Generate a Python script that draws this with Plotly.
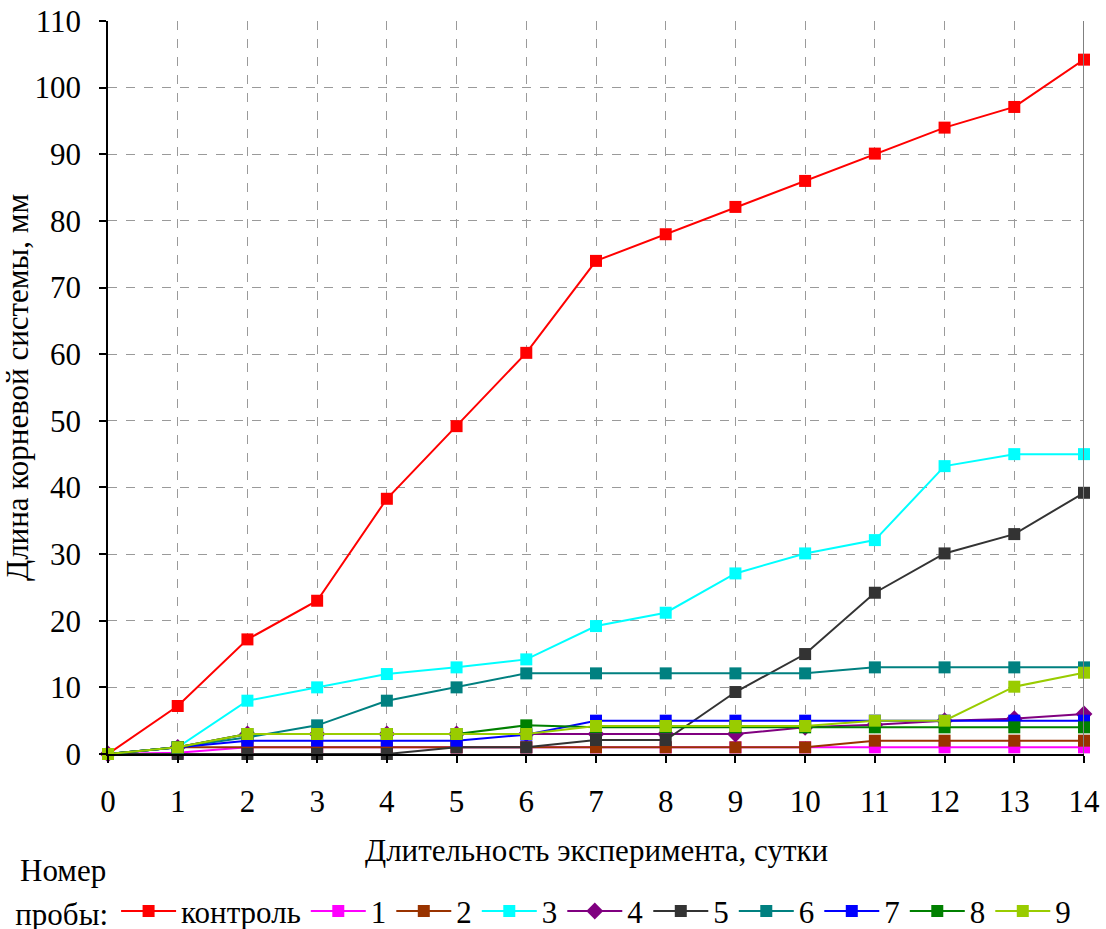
import plotly.graph_objects as go

days = list(range(15))
series_names = ["контроль", "1", "2", "3", "4", "5", "6", "7", "8", "9"]
control = [0, 7.2, 17.2, 23, 38.3, 49.2, 60.2, 74, 78, 82.1, 86, 90.1, 94, 97.1, 104.2]
s1 = [0, 0.2, 1, 1, 1, 1, 1, 1, 1, 1, 1, 1, 1, 1, 1]
s2 = [0, 1, 1, 1, 1, 1, 1, 1, 1, 1, 1, 2, 2, 2, 2]
s3 = [0, 1, 8, 10, 12, 13, 14.2, 19.2, 21.2, 27.1, 30.1, 32.1, 43.2, 45, 45]
s4 = [0, 1, 3, 3, 3, 3, 3, 3, 3, 3, 4, 4.4, 5, 5.3, 6]
s5 = [0, 0, 0, 0, 0, 1, 1, 2.1, 2.1, 9.3, 15, 24.2, 30.1, 33, 39.2]
s6 = [0, 1, 2.5, 4.3, 8, 10, 12.1, 12.1, 12.1, 12.1, 12.1, 13, 13, 13, 13]
s7 = [0, 1, 2, 2, 2, 2, 2.9, 5, 5, 5, 5, 5, 5, 5, 5]
s8 = [0, 1, 3, 3, 3, 3, 4.3, 4, 4, 4, 4, 4, 4, 4, 4]
s9 = [0, 1, 3, 3, 3, 3, 3, 4.2, 4.2, 4.2, 4.2, 5, 5, 10.1, 12.2]
x_ticks = list(range(15))
y_ticks = list(range(0, 111, 10))
x_title = "Длительность эксперимента, сутки"
y_title = "Длина корневой системы, мм"

values = [control, s1, s2, s3, s4, s5, s6, s7, s8, s9]
colors = ["#FF0000", "#FF00FF", "#993300", "#00FFFF", "#800080",
          "#333333", "#008080", "#0000FF", "#008000", "#99CC00"]
symbols = ["square", "square", "square", "square", "diamond",
           "square", "square", "square", "square", "square"]

FONT = "Liberation Serif, Times New Roman, serif"
FS = 31

fig = go.Figure()
for name, vals, col, sym in zip(series_names, values, colors, symbols):
    fig.add_trace(go.Scatter(
        x=days, y=vals, name=name, mode="lines+markers",
        line=dict(color=col, width=2),
        marker=dict(symbol=sym, size=12 if sym == "square" else 13, color=col),
        cliponaxis=False,
    ))

axis_common = dict(
    showline=True, linecolor="black", linewidth=1.5, mirror=False,
    ticks="outside", ticklen=7, tickcolor="black", tickwidth=1.5,
    showgrid=True, gridcolor="#9a9a9a", griddash="dash", gridwidth=1,
    zeroline=False, automargin=False,
    tickfont=dict(family=FONT, size=FS, color="black"),
)

fig.update_xaxes(range=[0, 14], tickvals=x_ticks, ticklabelstandoff=12,
                 **axis_common)
fig.update_yaxes(range=[0, 110], tickvals=y_ticks, ticklabelstandoff=12,
                 **axis_common,
                 title=dict(text=y_title,
                            font=dict(family=FONT, size=FS, color="black"),
                            standoff=8))

fig.add_shape(type="line", xref="x", yref="paper", x0=14, x1=14, y0=0, y1=1,
              line=dict(color="#808080", width=2))

fig.add_annotation(text=x_title, xref="paper", yref="paper", x=0.5, y=-0.131,
                   xanchor="center", yanchor="middle", showarrow=False,
                   font=dict(family=FONT, size=FS, color="black"))

fig.add_annotation(text="Номер", xref="paper", yref="paper", x=-0.092, y=-0.159,
                   xanchor="left", yanchor="middle", showarrow=False,
                   font=dict(family=FONT, size=FS, color="black"))

fig.update_layout(
    width=1106, height=929,
    paper_bgcolor="white", plot_bgcolor="white",
    margin=dict(l=108, r=22, t=21, b=175, autoexpand=False),
    font=dict(family=FONT, size=FS, color="black"),
    legend=dict(orientation="h", xref="container", yref="container",
                x=0.012, y=0.019, xanchor="left", yanchor="middle",
                title=dict(text="пробы:", side="left",
                           font=dict(family=FONT, size=FS)),
                font=dict(family=FONT, size=FS, color="black"),
                itemwidth=55, tracegroupgap=0, bgcolor="rgba(0,0,0,0)"),
    showlegend=True,
)

fig.write_html("out.html", config={"displayModeBar": False},
               post_script="document.body.style.margin='0';document.body.style.padding='0';")
